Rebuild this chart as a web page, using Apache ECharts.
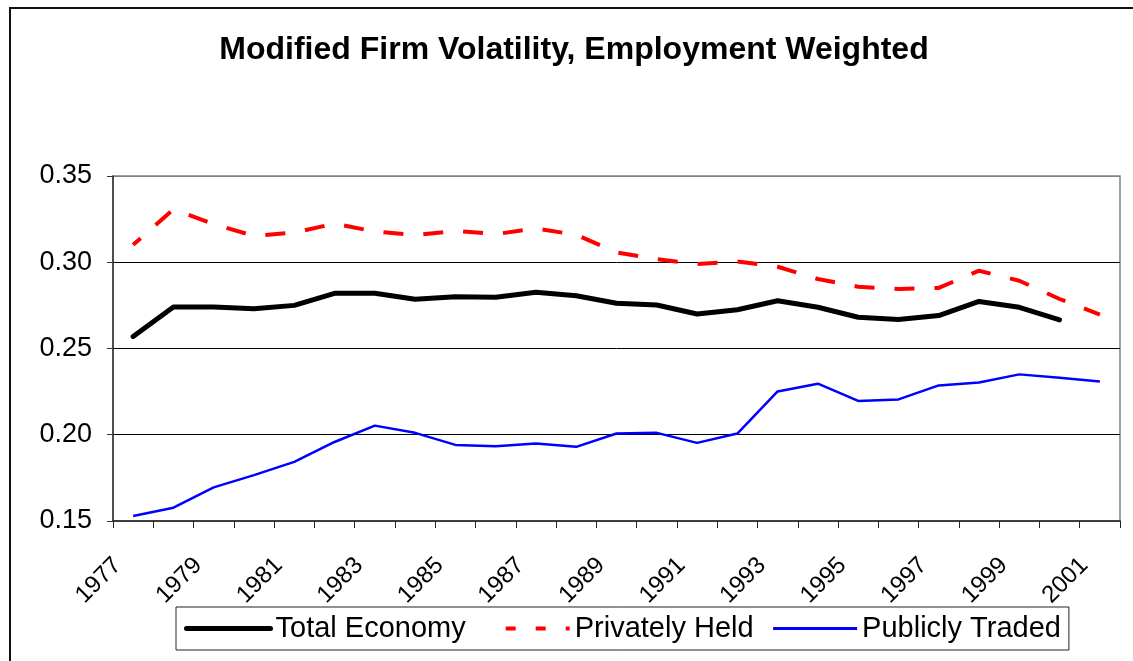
<!DOCTYPE html>
<html>
<head>
<meta charset="utf-8">
<script src="https://cdn.jsdelivr.net/npm/echarts@6/dist/echarts.min.js"></script>
<style>
  html, body { margin: 0; padding: 0; background: #fff; }
  #chart { width: 1133px; height: 661px; }
</style>
</head>
<body>
<div id="chart"></div>
<script>
const years = ['1977', '1978', '1979', '1980', '1981', '1982', '1983', '1984', '1985', '1986', '1987', '1988', '1989',
  '1990', '1991', '1992', '1993', '1994', '1995', '1996', '1997', '1998', '1999', '2000', '2001']

const totalEconomy = [0.257, 0.274, 0.274, 0.273, 0.275, 0.282, 0.282, 0.2785, 0.280, 0.2797, 0.2826, 0.2806, 0.2762,
  0.2752, 0.270, 0.2725, 0.2777, 0.2739, 0.2681, 0.2668, 0.2691, 0.2773, 0.2739, 0.2666, null]

const privatelyHeld = [0.3101, 0.3307, 0.3221, 0.3153, 0.3172, 0.3224, 0.3178, 0.3157, 0.3182, 0.3163, 0.3196, 0.3159, 0.3057,
  0.3018, 0.299, 0.3005, 0.2974, 0.2903, 0.2858, 0.2845, 0.2851, 0.2951, 0.2893, 0.2787, 0.2697]

const publiclyTraded = [0.1529, 0.1577, 0.1695, 0.1766, 0.1843, 0.1958, 0.2053, 0.2011, 0.1941, 0.1934, 0.1949, 0.193, 0.2007,
  0.2011, 0.1953, 0.2007, 0.2251, 0.2296, 0.2196, 0.2205, 0.2286, 0.2303, 0.235, 0.2331, 0.2309]

const yTicks = [0.15, 0.2, 0.25, 0.3, 0.35]

const font = '"Liberation Sans", Arial, sans-serif'

const chart = echarts.init(document.getElementById('chart'), null, { renderer: 'canvas' })

// hide the marker dot that line series put in their legend icon
const noDot = { opacity: 0 }

chart.setOption({
  animation: false,
  backgroundColor: '#fff',
  textStyle: { fontFamily: font },
  title: {
    text: 'Modified Firm Volatility, Employment Weighted',
    left: 569,
    top: 29,
    textAlign: 'center',
    textStyle: { fontFamily: font, fontWeight: 'bold', fontSize: 32, color: '#000' },
  },
  graphic: [
    {
      type: 'rect',
      silent: true,
      shape: { x: 10, y: 8, width: 1300, height: 900 },
      style: { fill: 'none', stroke: '#111', lineWidth: 2 },
    },
  ],
  grid: {
    left: 113,
    right: 13,
    top: 176,
    bottom: 140,
    show: true,
    borderColor: '#808080',
    borderWidth: 1.5,
  },
  legend: {
    left: 176,
    top: 607,
    orient: 'horizontal',
    padding: [7, 8],
    itemGap: 18,
    itemWidth: 84,
    itemHeight: 14,
    borderColor: '#222',
    borderWidth: 1,
    backgroundColor: '#fff',
    textStyle: { fontFamily: font, fontSize: 29, color: '#000' },
    data: [
      { name: 'Total Economy', lineStyle: { width: 5 }, itemStyle: noDot },
      { name: 'Privately Held', lineStyle: { width: 4, type: [10, 20] }, itemStyle: noDot },
      { name: 'Publicly Traded', lineStyle: { width: 3 }, itemStyle: noDot },
    ],
  },
  xAxis: {
    type: 'category',
    data: years,
    boundaryGap: true,
    axisLine: { lineStyle: { color: '#222', width: 1.5 } },
    axisTick: { show: true, interval: 0, length: 7, lineStyle: { color: '#222' } },
    axisLabel: {
      interval: 1,
      rotate: 45,
      margin: 25,
      padding: [0, 22, 0, 0],
      fontSize: 24,
      color: '#000',
      fontFamily: font,
    },
    splitLine: { show: false },
  },
  yAxis: {
    type: 'value',
    min: yTicks[0],
    max: yTicks[yTicks.length - 1],
    interval: 0.05,
    axisLine: { show: true, lineStyle: { color: '#333', width: 1.5 } },
    axisTick: { show: true, length: 6, lineStyle: { color: '#333' } },
    axisLabel: {
      margin: 21,
      fontSize: 27,
      color: '#000',
      fontFamily: font,
      formatter: (v) => v.toFixed(2),
    },
    splitLine: { show: true, lineStyle: { color: ['#808080', '#000', '#000', '#000', '#808080'], width: 1 } },
  },
  series: [
    {
      name: 'Publicly Traded',
      type: 'line',
      data: publiclyTraded,
      symbol: 'none',
      z: 3,
      lineStyle: { color: '#0000ff', width: 2.5 },
      itemStyle: { color: '#0000ff' },
    },
    {
      name: 'Privately Held',
      type: 'line',
      data: privatelyHeld,
      symbol: 'none',
      z: 4,
      lineStyle: { color: '#ff0000', width: 4, type: [20, 20], dashOffset: 10, cap: 'butt' },
      itemStyle: { color: '#ff0000' },
    },
    {
      name: 'Total Economy',
      type: 'line',
      data: totalEconomy,
      symbol: 'none',
      z: 5,
      lineStyle: { color: '#000', width: 5, cap: 'round', join: 'round' },
      itemStyle: { color: '#000' },
    },
  ],
})
</script>
</body>
</html>
